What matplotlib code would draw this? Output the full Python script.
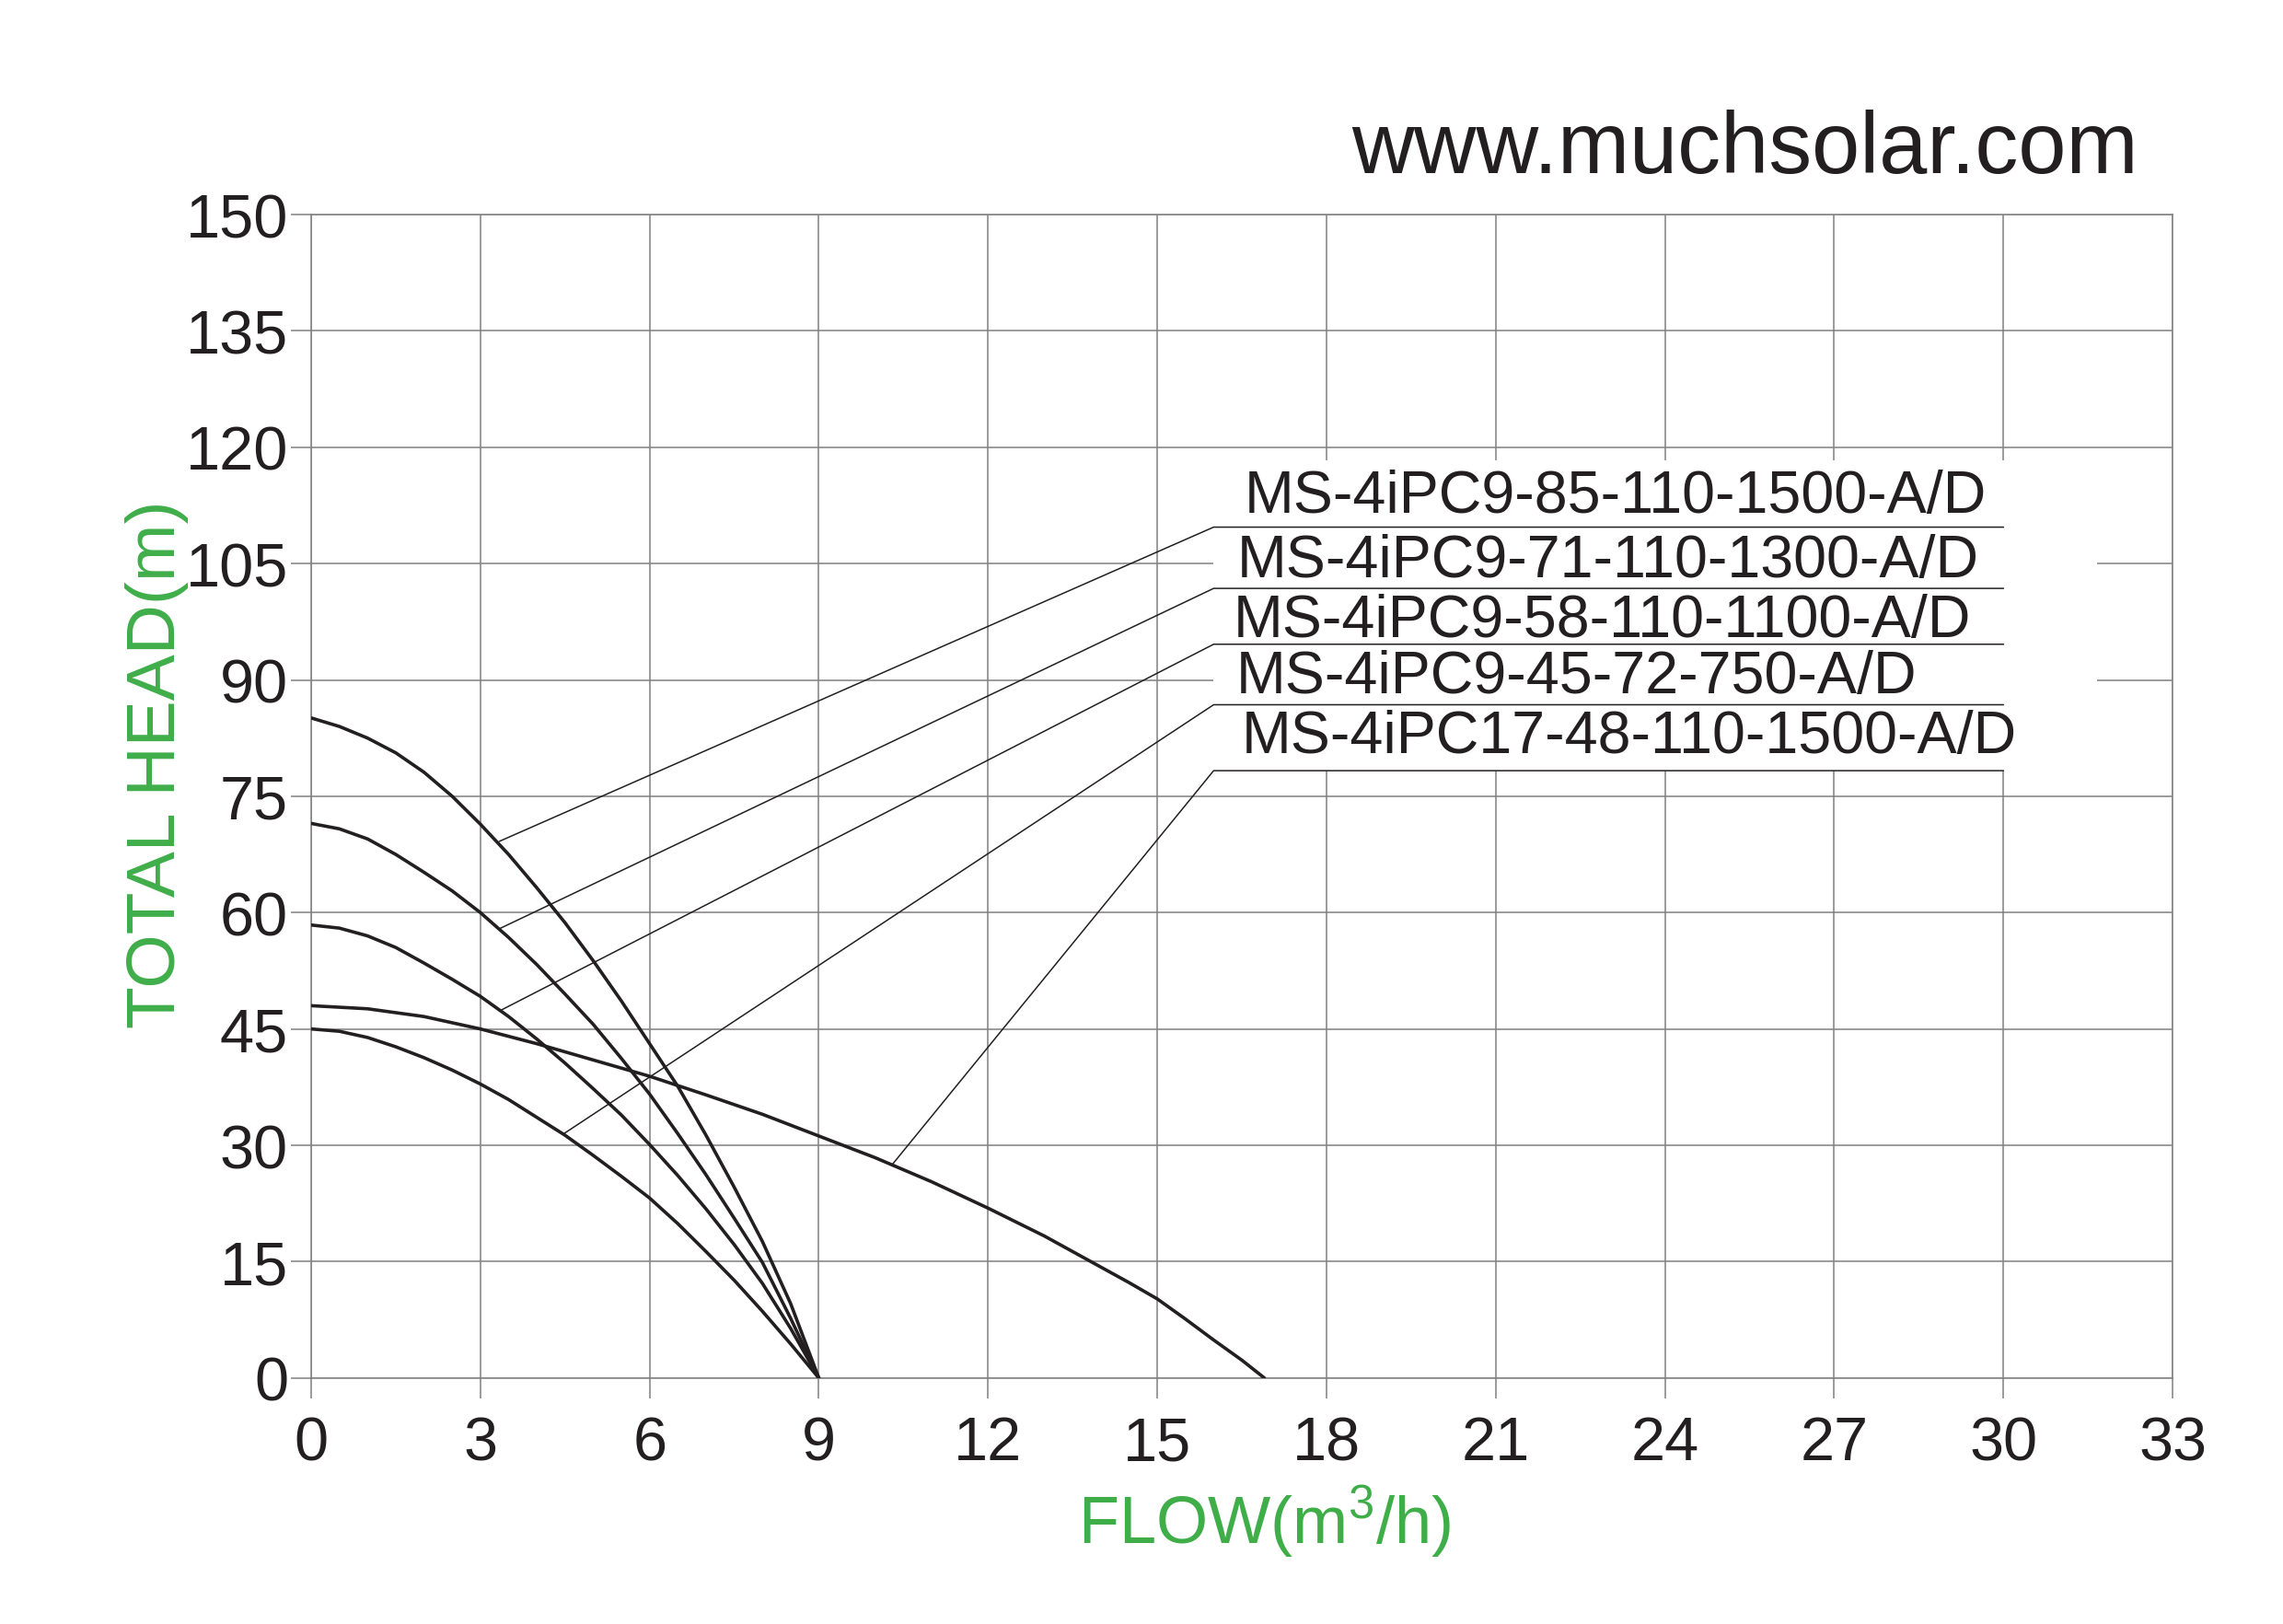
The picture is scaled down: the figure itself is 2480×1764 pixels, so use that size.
import matplotlib
matplotlib.use("Agg")
import matplotlib.pyplot as plt
from matplotlib.patches import Rectangle

plt.rcParams['font.family'] = ['Liberation Sans', 'DejaVu Sans']
plt.rcParams['mathtext.fontset'] = 'custom'
plt.rcParams['mathtext.rm'] = 'Liberation Sans'

# pump curves: flow (m3/h) vs total head (m)
flow_9 = [0, 0.5, 1, 1.5, 2, 2.5, 3, 3.5, 4, 4.5, 5, 5.5, 6, 6.5, 7, 7.5, 8, 8.5, 9]
head_85 = [85.1, 84.0, 82.5, 80.6, 78.1, 75.0, 71.4, 67.5, 63.2, 58.7, 53.8, 48.6, 43.1, 37.6, 31.3, 24.6, 17.6, 9.6, 0]
head_71 = [71.5, 70.8, 69.5, 67.5, 65.2, 62.8, 60.0, 56.8, 53.3, 49.5, 45.6, 41.2, 36.6, 31.5, 26.2, 20.6, 14.9, 7.7, 0]
head_58 = [58.4, 58.0, 57.0, 55.5, 53.5, 51.4, 49.2, 46.6, 43.7, 40.6, 37.3, 33.9, 30.1, 26.1, 21.8, 17.2, 12.2, 6.4, 0]
head_45 = [45.0, 44.7, 43.9, 42.7, 41.3, 39.7, 37.9, 35.9, 33.6, 31.3, 28.7, 26.0, 23.2, 19.9, 16.3, 12.6, 8.6, 4.4, 0]
flow_17 = [0, 1, 2, 3, 4, 5, 6, 7, 8, 9, 10, 11, 12, 13, 14, 14.5, 15, 15.5, 16, 16.5, 16.9]
head_48 = [48.0, 47.6, 46.6, 45.0, 43.1, 41.0, 38.9, 36.5, 34.0, 31.2, 28.4, 25.3, 21.9, 18.3, 14.3, 12.3, 10.2, 7.6, 4.9, 2.3, 0]

models = ['MS-4iPC9-85-110-1500-A/D', 'MS-4iPC9-71-110-1300-A/D', 'MS-4iPC9-58-110-1100-A/D',
          'MS-4iPC9-45-72-750-A/D', 'MS-4iPC17-48-110-1500-A/D']
# where each leader line touches its curve
tag_x = [3.34, 3.36, 3.36, 4.48, 10.3]
tag_y = [69.2, 58.0, 47.4, 31.5, 27.5]
# underline heights and text baselines of the label block
line_y = [109.7, 101.8, 94.6, 86.8, 78.3]
text_y = [111.7, 103.4, 95.7, 88.4, 80.65]
text_x = [16.55, 16.42, 16.35, 16.40, 16.50]

x_ticks = list(range(0, 34, 3))
y_ticks = list(range(0, 151, 15))

ink = '#231f20'
grey = '#808080'
green = '#3fae49'

fig = plt.figure(figsize=(24.8, 17.65), dpi=100)
ax = fig.add_axes([0.1363, 0.1514, 0.8153, 0.7160])

for q, h in [(flow_9, head_85), (flow_9, head_71), (flow_9, head_58), (flow_9, head_45), (flow_17, head_48)]:
    ax.plot(q, h, color=ink, lw=2.6, solid_joinstyle='round', solid_capstyle='round', zorder=3)

# white block behind the model names
ax.add_patch(Rectangle((16, line_y[-1]), 15.66, 118.3 - line_y[-1], facecolor='white',
                       edgecolor='none', zorder=1.5))

for name, cx, cy, ly, tx, ty in zip(models, tag_x, tag_y, line_y, text_x, text_y):
    ax.plot([cx, 16, 30], [cy, ly, ly], color=ink, lw=1.1, zorder=2.5)
    ax.text(tx, ty, name, fontsize=46.5, color=ink, va='baseline', ha='left', zorder=4)

ax.set_xlim(0, 33)
ax.set_ylim(0, 150)
ax.set_xticks(x_ticks)
ax.set_yticks(y_ticks)
ax.grid(True, color=grey, lw=1.1)
ax.set_axisbelow(True)
for s in ax.spines.values():
    s.set_color(grey)
    s.set_linewidth(1.1)
ax.tick_params(axis='both', colors=grey, length=16, width=1.1, labelsize=48, labelcolor=ink)
ax.tick_params(axis='x', pad=13)
ax.tick_params(axis='y', pad=2)

fig.text(1374 / 2480, 0.05, r'FLOW(m$^3$/h)', color=green, fontsize=52, ha='center', va='baseline')
fig.text(190 / 2480, 0.5297, 'TOTAL HEAD(m)', color=green, fontsize=54, rotation=90,
         rotation_mode='anchor', ha='center', va='baseline')
fig.text(1468 / 2480, 1 - 188 / 1765, 'www.muchsolar.com', color=ink, fontsize=67.5,
         ha='left', va='baseline')

fig.savefig('out.png', dpi=100, facecolor='white')
